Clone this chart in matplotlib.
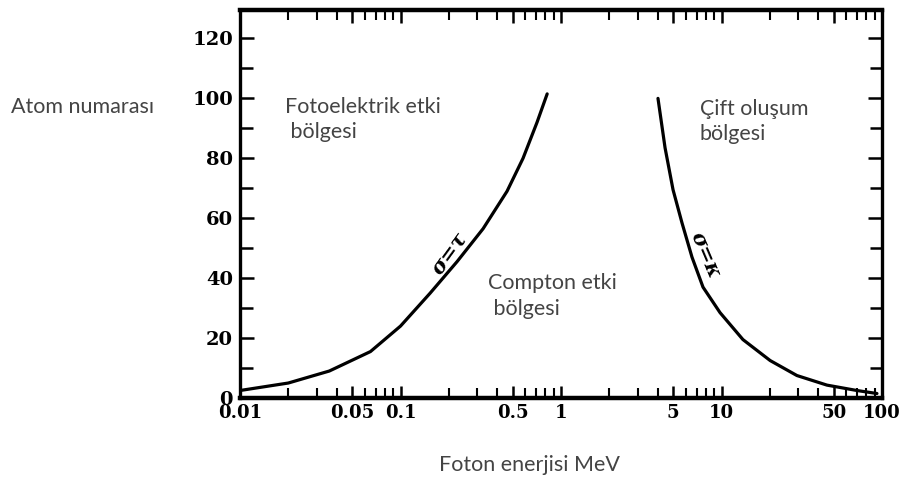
import numpy as np
import matplotlib
matplotlib.use("Agg")
import matplotlib.pyplot as plt
from matplotlib.ticker import FixedLocator, NullFormatter

# Photon energy (MeV) and atomic number along the sigma = tau boundary
photo_compton_energy = [0.01, 0.02, 0.036, 0.065, 0.1, 0.153, 0.225, 0.327, 0.461, 0.58, 0.709, 0.82]
photo_compton_z = [2.5, 5, 9, 15.5, 24, 35, 45.5, 56.5, 69, 80, 92, 101.5]

# Photon energy (MeV) and atomic number along the sigma = kappa boundary
compton_pair_energy = [4.02, 4.45, 4.99, 5.67, 6.55, 7.67, 9.79, 13.6, 20.1, 29.5, 45.4, 69.8, 93]
compton_pair_z = [100, 83.5, 69.5, 58.5, 47, 37, 28.5, 19.5, 12.5, 7.5, 4.3, 2.5, 1.5]

x_ticks = [0.01, 0.05, 0.1, 0.5, 1, 5, 10, 50, 100]
x_tick_labels = ["0.01", "0.05", "0.1", "0.5", "1", "5", "10", "50", "100"]
y_ticks = [0, 20, 40, 60, 80, 100, 120]

fig = plt.figure(figsize=(8.99, 4.79), dpi=100)
ax = fig.add_axes([240 / 899, 1 - 398 / 479, (882 - 240) / 899, (398 - 10) / 479])

ax.plot(photo_compton_energy, photo_compton_z, color="black", lw=2.3, solid_capstyle="round")
ax.plot(compton_pair_energy, compton_pair_z, color="black", lw=2.3, solid_capstyle="round")

ax.set_xscale("log")
ax.set_xlim(0.01, 100)
ax.set_ylim(0, 129.5)

x_font = dict(family="DejaVu Serif", weight="bold", size=13)
y_font = dict(family="DejaVu Serif", weight="bold", size=14)
ax.xaxis.set_major_locator(FixedLocator(x_ticks))
ax.set_xticklabels(x_tick_labels, fontdict=x_font)
minor_x = [m * 10.0 ** d for d in range(-2, 2) for m in range(2, 10) if m != 5]
ax.xaxis.set_minor_locator(FixedLocator(minor_x))
ax.xaxis.set_minor_formatter(NullFormatter())

ax.set_yticks(y_ticks)
ax.set_yticklabels([str(v) for v in y_ticks], fontdict=y_font)
ax.yaxis.set_minor_locator(FixedLocator(list(range(10, 130, 20))))

ax.tick_params(axis="both", which="both", direction="in", top=True, right=True, color="black")
ax.tick_params(axis="x", which="major", length=9, width=1.8, pad=4)
ax.tick_params(axis="x", which="minor", length=7, width=1.5)
ax.tick_params(axis="y", which="major", length=10, width=1.8, pad=5)
ax.tick_params(axis="y", which="minor", length=9, width=1.8)

for side, spine in ax.spines.items():
    spine.set_linewidth(2.4 if side in ("left", "right") else 3.2)
    spine.set_color("black")

label_font = dict(family="Lato", size=15.5, color="#444444")
fig.text(11 / 899, 1 - 107 / 479, "Atom numarası", ha="left", va="center", **label_font)
fig.text(529 / 899, 1 - 465 / 479, "Foton enerjisi MeV", ha="center", va="center", **label_font)

ax.text(0.019, 93, "Fotoelektrik etki\n bölgesi", ha="left", va="center",
        linespacing=1.35, **label_font)
ax.text(0.35, 34, "Compton etki\n bölgesi", ha="left", va="center",
        linespacing=1.35, **label_font)
ax.text(7.3, 92.3, "Çift oluşum\nbölgesi", ha="left", va="center",
        linespacing=1.35, **label_font)

curve_font = dict(family="DejaVu Serif", weight="bold", size=15, style="italic", color="black")
ax.text(0.2, 48.5, "σ=τ", rotation=54, ha="center", va="center", **curve_font)
ax.text(7.95, 47.7, "σ=κ", rotation=-67, ha="center", va="center", **curve_font)

fig.savefig("out.png", dpi=100, facecolor="white")
